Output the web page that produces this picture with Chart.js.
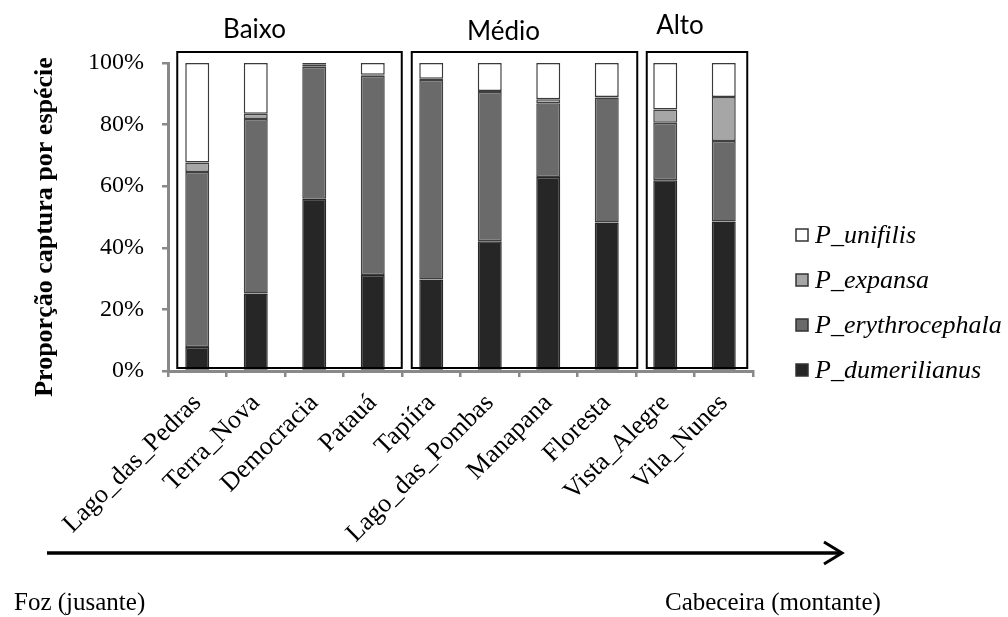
<!DOCTYPE html>
<html><head><meta charset="utf-8">
<script src="https://cdn.jsdelivr.net/npm/chart.js@4"></script>
<style>html,body{margin:0;padding:0;background:#fff}canvas{display:block}</style>
</head><body>
<canvas id="c" width="1008" height="617"></canvas>
<script>
// ---- data ----
const categories = ['Lago_das_Pedras','Terra_Nova','Democracia','Patauá','Tapiíra','Lago_das_Pombas','Manapana','Floresta','Vista_Alegre','Vila_Nunes'];
const P_dumerilianus   = [7.8, 25.2, 55.9, 31.2, 29.7, 42.1, 63.0, 48.2, 61.9, 48.5];
const P_erythrocephala = [56.8, 56.6, 42.9, 64.7, 64.8, 48.5, 23.9, 40.6, 18.7, 26.2];
const P_expansa        = [3.1, 1.7, 0.8, 0.3, 0.4, 0.3, 1.3, 0.2, 4.3, 14.3];
const P_unifilis       = [32.3, 16.5, 0.4, 3.8, 5.1, 9.1, 11.8, 11.0, 15.1, 11.0];
const yTickValues = [0, 20, 40, 60, 80, 100];
const groupNames = ['Baixo', 'Médio', 'Alto'];
const groupFirst = [0, 4, 8];
const groupLast  = [3, 7, 9];
const yTitle = 'Proporção captura por espécie';
const arrowTexts = ['Foz (jusante)', 'Cabeceira (montante)'];

// ---- styles ----
const SERIF = '"Liberation Serif", "Times New Roman", serif';
const GRAY = '#898989';
const boxPad = [[-20, 29], [-19.5, 30.5], [-18.5, 23.5]];
const groupLabelDx = [-35, -21, -17];
const groupLabelY = [38, 40, 34];

const decor = {
  id: 'decor',
  afterDraw(chart) {
    const ctx = chart.ctx, xs = chart.scales.x, ys = chart.scales.y;
    ctx.save();
    // group boxes + labels
    for (let i = 0; i < groupNames.length; i++) {
      const l = xs.getPixelForValue(groupFirst[i]) + boxPad[i][0];
      const r = xs.getPixelForValue(groupLast[i]) + boxPad[i][1];
      const t = ys.getPixelForValue(100) - 11;
      const b = ys.getPixelForValue(0) - 3;
      ctx.strokeStyle = '#000'; ctx.lineWidth = 2;
      ctx.strokeRect(l, t, r - l, b - t);
      ctx.font = '26px Lato, "Open Sans", sans-serif';
      ctx.fillStyle = '#000'; ctx.textAlign = 'center'; ctx.textBaseline = 'alphabetic';
      ctx.fillText(groupNames[i], (l + r) / 2 + groupLabelDx[i], groupLabelY[i]);
    }
    // y axis title
    ctx.save();
    ctx.translate(45, 227); ctx.rotate(-Math.PI / 2);
    ctx.font = 'bold 26px ' + SERIF; ctx.fillStyle = '#000';
    ctx.textAlign = 'center'; ctx.textBaseline = 'middle';
    ctx.fillText(yTitle, 0, 0);
    ctx.restore();
    // legend
    const items = chart.data.datasets.slice().reverse();
    items.forEach((ds, i) => {
      const base = 243 + i * 45;
      ctx.fillStyle = ds.backgroundColor;
      ctx.fillRect(796, base - 14, 12, 12);
      ctx.strokeStyle = '#333'; ctx.lineWidth = 1.5;
      ctx.strokeRect(796, base - 14, 12, 12);
      ctx.fillStyle = '#000';
      ctx.font = 'italic 26px ' + SERIF;
      ctx.textAlign = 'left'; ctx.textBaseline = 'alphabetic';
      ctx.fillText(ds.label, 815, base);
    });
    // arrow
    ctx.strokeStyle = '#000'; ctx.lineWidth = 3.5; ctx.lineCap = 'butt';
    ctx.beginPath(); ctx.moveTo(47, 553); ctx.lineTo(840, 553); ctx.stroke();
    ctx.lineWidth = 3; ctx.lineJoin = 'miter';
    ctx.beginPath(); ctx.moveTo(824, 542); ctx.lineTo(842, 553); ctx.lineTo(824, 564); ctx.stroke();
    // arrow texts
    ctx.fillStyle = '#000'; ctx.font = '25px ' + SERIF; ctx.textAlign = 'left';
    ctx.fillText(arrowTexts[0], 14, 610);
    ctx.fillText(arrowTexts[1], 665, 610);
    ctx.restore();
  }
};

const mk = (label, data, bg, border) => ({
  label, data, backgroundColor: bg, borderColor: border, borderWidth: 1.5,
  barPercentage: 0.41, categoryPercentage: 1.0, borderSkipped: false
});

new Chart(document.getElementById('c'), {
  type: 'bar',
  data: {
    labels: categories,
    datasets: [
      mk('P_dumerilianus', P_dumerilianus, '#262626', '#262626'),
      mk('P_erythrocephala', P_erythrocephala, '#6a6a6a', '#404040'),
      mk('P_expansa', P_expansa, '#a6a6a6', '#404040'),
      mk('P_unifilis', P_unifilis, '#ffffff', '#3a3a3a')
    ]
  },
  options: {
    responsive: false, animation: false, devicePixelRatio: 1,
    layout: { padding: { left: 20, top: 63, right: 255, bottom: 0 } },
    plugins: { legend: { display: false }, tooltip: { enabled: false } },
    scales: {
      x: {
        stacked: true,
        afterFit(s) { s.height = 246; },
        grid: { display: true, drawOnChartArea: false, drawTicks: true, tickLength: 6, color: GRAY, lineWidth: 2.5, offset: true },
        border: { display: true, color: GRAY, width: 3 },
        ticks: { color: '#000', font: { family: SERIF, size: 26 }, minRotation: 45, maxRotation: 45, autoSkip: false, padding: 11 }
      },
      y: {
        stacked: true, min: 0, max: 100,
        afterFit(s) { s.width = 148; },
        afterBuildTicks(s) { s.ticks = yTickValues.map(v => ({ value: v })); },
        grid: { display: true, drawOnChartArea: false, drawTicks: true, tickLength: 6, color: GRAY, lineWidth: 2.5 },
        border: { display: true, color: GRAY, width: 3 },
        ticks: { color: '#000', font: { family: SERIF, size: 24 }, padding: 18, callback: v => v + '%' },
        title: { display: false }
      }
    }
  },
  plugins: [decor]
});
</script>
</body></html>
